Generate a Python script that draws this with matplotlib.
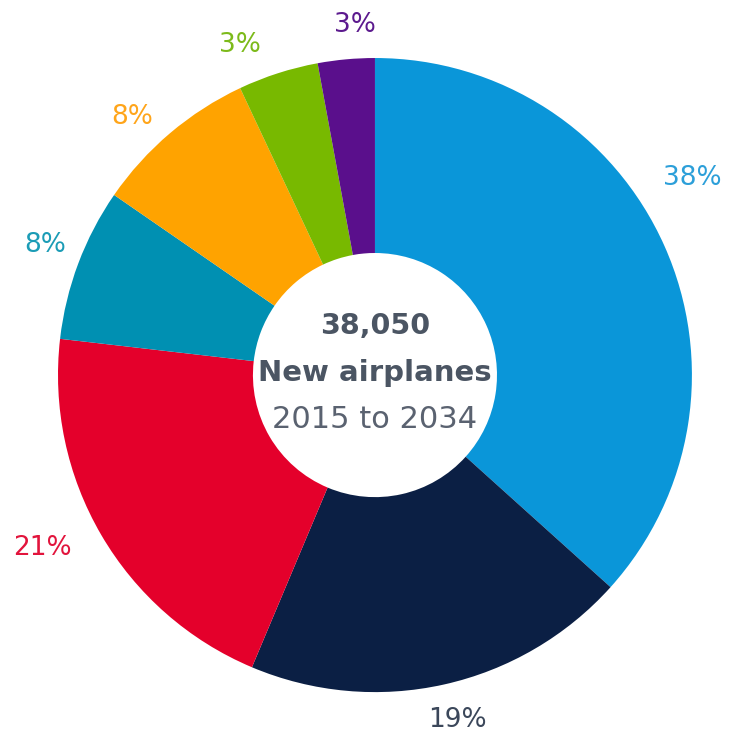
import matplotlib
matplotlib.use("Agg")
import numpy as np
import matplotlib.pyplot as plt

# shares as drawn (clockwise from 12 o'clock) and their printed labels
shares = [36.7, 19.7, 20.5, 7.8, 8.4, 4.1, 2.9]
labels = ['38%', '19%', '21%', '8%', '8%', '3%', '3%']
colors = ['#0a96d9', '#0b1f44', '#e4002b', '#0090b2', '#ffa300', '#78b900', '#5a0f8c']
label_colors = ['#2c9fd9', '#3b475a', '#e2143c', '#1b9cb6', '#ffa51a', '#7cba1a', '#5c1a8e']

center_lines = ['38,050', 'New airplanes', '2015 to 2034']

# label placement: angle clockwise from top (deg), distance in radii
label_angle = [58.2, 166.5, 242.5, 291.5, 316.7, 337.7, 356.7]
label_dist = [1.177, 1.119, 1.184, 1.119, 1.118, 1.125, 1.106]

plt.rcParams['font.family'] = ['DejaVu Sans']

fig = plt.figure(figsize=(7.29, 7.33), dpi=100)
ax = fig.add_axes([0, 0, 1, 1])

wedges, _ = ax.pie(shares, colors=colors, startangle=90,
                   counterclock=False, radius=1.0,
                   wedgeprops=dict(width=0.615, edgecolor='none'))

for lab, c, a, d in zip(labels, label_colors, label_angle, label_dist):
    t = np.deg2rad(a)
    ax.text(d * np.sin(t), d * np.cos(t), lab, ha='center', va='center',
            fontsize=19, color=c)

ax.text(0, 0.155, center_lines[0], ha='center', va='center', fontsize=20.5,
        fontweight='bold', color='#4b5563')
ax.text(0, 0.005, center_lines[1], ha='center', va='center', fontsize=21,
        fontweight='bold', color='#4b5563')
ax.text(0, -0.14, center_lines[2], ha='center', va='center', fontsize=22,
        color='#5a6270')

ax.set_xlim(-1.183, 1.117)
ax.set_ylim(-1.129, 1.183)
ax.set_aspect('auto')
ax.axis('off')

fig.savefig('out.png', dpi=100, facecolor='white')
